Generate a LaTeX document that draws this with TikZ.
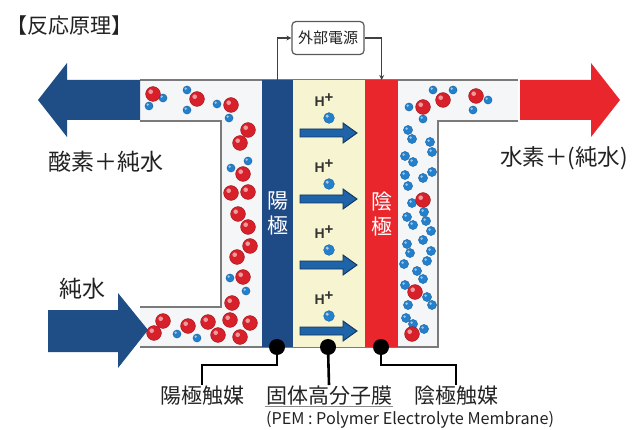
\documentclass[tikz,border=0pt]{standalone}
\usepackage{fontspec}
\setmainfont{Noto Sans CJK JP}
\newfontfamily\latinsans{Liberation Sans}
\usetikzlibrary{arrows.meta,calc}

\definecolor{anodeblue}{HTML}{1E4A86}
\definecolor{arrowblue}{HTML}{1F4E86}
\definecolor{cathred}{HTML}{E8262B}
\definecolor{pemyellow}{HTML}{F7F4D2}
\definecolor{wallgray}{HTML}{7A7A7A}
\definecolor{chanfill}{HTML}{F4F6F8}
\definecolor{oxred}{HTML}{D8202A}
\definecolor{hyblue}{HTML}{2380CC}
\definecolor{ionblue}{HTML}{1F63A8}
\definecolor{ionedge}{HTML}{10355C}
\definecolor{txt}{HTML}{222222}

% oxygen and hydrogen atoms: flat ball with a soft highlight
\newcommand{\Oat}[1]{%
  \fill[oxred, draw=oxred!70!black, line width=0.4] (#1) circle (7.4);
  \fill[white, opacity=0.55] ($(#1)+(-2.3,-2.3)$) circle (2.3);}
\newcommand{\Hat}[1]{%
  \fill[hyblue, draw=hyblue!70!black, line width=0.3] (#1) circle (4.1);
  \fill[white, opacity=0.55] ($(#1)+(-1.3,-1.3)$) circle (1.3);}
\newcommand{\HHat}[1]{%
  \fill[hyblue, draw=hyblue!70!black, line width=0.3] (#1) circle (4.6);
  \fill[white, opacity=0.55] ($(#1)+(-1.4,-1.4)$) circle (1.4);}

\tikzset{
  wall/.style={draw=wallgray, line width=1.6},
  electrode/.style={draw=none, inner sep=0, anchor=north west, minimum height=267,
    text=white, align=center, font=\fontsize{21}{25}\selectfont},
  lbl/.style={text=txt, inner sep=1, font=\fontsize{21}{25}\selectfont},
  biglbl/.style={text=txt, inner sep=1, font=\fontsize{23}{27}\selectfont},
  catdot/.style={circle, fill=black, minimum size=16, inner sep=0},
  leader/.style={line width=2.6, black},
  wire/.style={draw=black!75, line width=1.1},
  psubox/.style={draw=black!65, line width=1.2, rounded corners=4, fill=white,
    minimum width=72, minimum height=33, inner sep=2, text=txt,
    font=\fontsize{15}{18}\selectfont},
  hion/.style={text=black!80, inner sep=0, font=\latinsans\fontsize{14}{17}\selectfont},
  ionarrow/.style={fill=ionblue, draw=ionedge, line width=0.9, line join=miter},
}

\begin{document}
\begin{tikzpicture}[x=1pt, y=-1pt]
\useasboundingbox (0,0) rectangle (636,430);
\fill[white] (0,0) rectangle (636,430);

% title
\node[text=txt, inner sep=1, font=\fontsize{21}{25}\selectfont] (title) at (69,26) {【反応原理】};

% flow channels
\fill[chanfill] (140,80) -- (518,80) -- (518,121) -- (438,121) -- (438,347)
  -- (140,347) -- (140,307) -- (221,307) -- (221,121) -- (140,121) -- cycle;
\draw[wall] (140,80) -- (518,80);
\draw[wall] (518,121) -- (438,121) -- (438,347) -- (140,347);
\draw[wall] (140,121) -- (221,121) -- (221,307) -- (140,307);

% electrodes and membrane
\node[electrode, fill=anodeblue, minimum width=31] (anode) at (262,80) {陽\\極};
\node[electrode, fill=pemyellow, minimum width=72] (pem) at (293,80) {};
\node[electrode, fill=cathred, minimum width=33] (cathode) at (365,80) {陰\\極};

% proton transport through the membrane
\foreach \k in {0,1,2,3} {
  \pgfmathsetmacro\yy{100+66*\k}
  \node[hion] (hp\k) at (324,\yy) {\bfseries H\raisebox{3.5pt}{\fontsize{15}{17}\selectfont +}};
  \fill[hyblue, draw=hyblue!70!black, line width=0.3] (329,\yy+18) circle (5.4);
  \fill[white, opacity=0.6] (327.2,\yy+16.2) circle (1.7);
  \filldraw[ionarrow] (300,\yy+29) -- (343,\yy+29) -- (343,\yy+23) -- (357,\yy+33)
    -- (343,\yy+43) -- (343,\yy+37) -- (300,\yy+37) -- cycle;
}

% big flow arrows
\fill[arrowblue] (140,80) -- (67,80) -- (67,63) -- (38,100) -- (67,137) -- (67,120)
  -- (140,120) -- cycle;
\fill[arrowblue] (48,310) -- (118,310) -- (118,293) -- (148,330) -- (118,368)
  -- (118,352) -- (48,352) -- cycle;
\fill[cathred] (520,80) -- (591,80) -- (591,63) -- (620,100) -- (591,137)
  -- (591,120) -- (520,120) -- cycle;

\node[biglbl] (outO) at (106,162) {酸素＋純水};
\node[biglbl] (inW) at (82,289) {純水};
\node[biglbl, font=\fontsize{22.5}{26}\selectfont] (outH) at (564,158) {水素＋(純水)};

% external power supply
\node[psubox] (psu) at (328,38) {外部電源};
\draw[wire, -{Stealth[length=5,width=5]}] (anode.north) |- (psu.west);
\draw[wire, -{Stealth[length=5,width=5]}] (psu.east) -| (cathode.north);

% anode side molecules: water and oxygen
\Hat{163,98}\Hat{149,106}\Oat{153,94}
\Hat{187,90}\Hat{187,110}\Oat{197,99}
\Hat{217,104}\Hat{229,118}\Oat{231,105}
\Oat{248,130}\Oat{240,143}
\Hat{248,161}\Hat{231,168}\Oat{243,174}
\Oat{231,193}\Oat{248,192}
\Oat{238,214}\Oat{248,227}
\Oat{250,246}\Oat{237,257}
\Hat{230,278}\Hat{246,291}\Oat{243,277}
\Oat{232,303}
\Oat{230,320}\Oat{240,337}
\Oat{250,323}
\Oat{208,322}\Oat{218,335}
\Hat{177,334}\Hat{197,338}\Oat{188,326}
\Oat{163,321}\Oat{154,333}

% cathode side molecules: hydrogen and water
\Hat{433,90}\Hat{453,90}\Oat{443,100}
\Hat{488,100}\Hat{473,110}\Oat{476,96}
\Hat{409,107}\Hat{423,119}\Oat{423,107}
\HHat{408,130}\HHat{412,139}
\HHat{430,142}\HHat{432,152}
\HHat{405,156}\HHat{413,162}
\HHat{432,172}\HHat{423,178}
\HHat{405,175}\HHat{408,186}
\HHat{412,203}\Oat{423,200}
\HHat{407,217}\HHat{413,225}
\HHat{424,212}\HHat{426,221}
\HHat{431,231}\HHat{423,240}
\HHat{407,244}\HHat{410,253}
\HHat{431,251}\HHat{427,261}
\HHat{404,264}
\HHat{417,271}\HHat{423,279}
\HHat{405,285}\Oat{415,292}
\HHat{427,297}\HHat{432,305}
\HHat{408,305}
\HHat{406,318}\HHat{413,324}
\HHat{424,329}\Oat{412,334}

% catalyst layers and membrane labels
\node[catdot] (catA) at (277,347) {};
\node[catdot] (catM) at (328,347) {};
\node[catdot] (catC) at (381,347) {};

\node[lbl] (lblA) at (202,396) {陽極触媒};
\node[lbl] (lblM) at (329,396) {固体高分子膜};
\node[lbl] (lblC) at (456,396) {陰極触媒};
\node[text=txt, inner sep=1, font=\fontsize{16.2}{18}\selectfont] (pemtxt) at (410,420)
  {(PEM : Polymer Electrolyte Membrane)};

\coordinate (kA) at (202,365);
\coordinate (kC) at (456,365);
\draw[leader] (catA.center) |- (kA) -- (lblA.north);
\draw[leader] (catM.center) -- (lblM.north);
\draw[leader] (catC.center) |- (kC) -- (lblC.north);
\draw[black!45, line width=1] (lblM.south west) -- (lblM.south east);
\end{tikzpicture}
\end{document}
